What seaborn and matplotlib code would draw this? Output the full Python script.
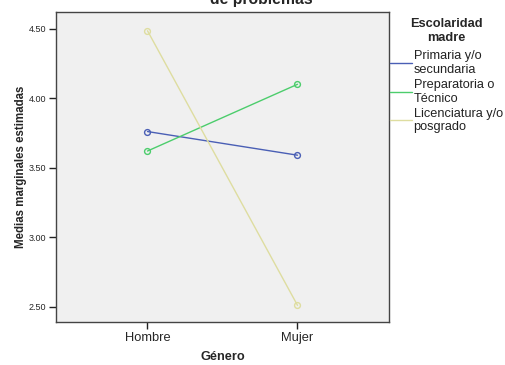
import matplotlib
matplotlib.use("Agg")
import matplotlib.pyplot as plt
import seaborn as sns
import pandas as pd
from matplotlib.lines import Line2D

genero = ["Hombre", "Mujer"]
series_names = ["Primaria y/o\nsecundaria", "Preparatoria o\nTécnico", "Licenciatura y/o\nposgrado"]
primaria = [3.76, 3.59]
preparatoria = [3.62, 4.10]
licenciatura = [4.485, 2.51]
yticks = [2.50, 3.00, 3.50, 4.00, 4.50]
colors = ["#4a5fb5", "#4ccd6c", "#deddA0"]

df = pd.DataFrame({
    "Género": genero * 3,
    "Media": primaria + preparatoria + licenciatura,
    "Escolaridad": [series_names[0]] * 2 + [series_names[1]] * 2 + [series_names[2]] * 2,
})

sns.set_style("white")
plt.rcParams["font.family"] = ["Liberation Sans", "DejaVu Sans"]

fig = plt.figure(figsize=(5.06, 3.65), dpi=100)
ax = fig.add_axes([56 / 506, 1 - 322 / 365, (389 - 56) / 506, (322 - 12) / 365])

sns.lineplot(data=df, x="Género", y="Media", hue="Escolaridad", palette=colors,
             marker="o", ax=ax, legend=False, linewidth=1.0, sort=False)
for ln, c in zip(ax.lines, colors):
    ln.set_markerfacecolor("none")
    ln.set_markeredgecolor(c)
    ln.set_markersize(4.2)
    ln.set_markeredgewidth(1.0)

ax.set_facecolor("#f0f0f0")
ax.set_xlim(-0.61, 1.61)
ax.set_ylim(2.39, 4.62)
ax.set_yticks(yticks)
ax.set_yticklabels([f"{v:.2f}" for v in yticks], fontsize=6.5)
ax.set_xticks([0, 1])
ax.set_xticklabels(genero, fontsize=9.3)
ax.tick_params(axis="both", direction="out", length=5, width=1, color="#222222", pad=2, left=True, bottom=True)
for s in ax.spines.values():
    s.set_color("#444444")
    s.set_linewidth(1.0)

ax.set_xlabel("Género", fontsize=9.2, fontweight="bold", labelpad=5)
ax.set_ylabel("Medias marginales estimadas", fontsize=8.3, fontweight="bold", labelpad=1)

fig.text(261 / 506, 361 / 365, "de problemas", ha="center", va="baseline",
         fontsize=11.3, fontweight="bold")

handles = [Line2D([0], [0], color=c, linewidth=1.0) for c in colors]
leg = fig.legend(handles, series_names, loc="upper left",
                 bbox_to_anchor=(390 / 506, 1 - 18 / 365), frameon=False,
                 title="Escolaridad\nmadre", fontsize=9.2, title_fontproperties={"weight": "bold", "size": 9.2},
                 handlelength=1.75, handletextpad=0.1, labelspacing=0.24, borderpad=0, borderaxespad=0,
                 alignment="center")
for t in leg.get_texts():
    t.set_linespacing(1.17)
    t.set_color("#222222")
leg.get_title().set_linespacing(1.17)
leg.get_title().set_ha("center")
leg.get_title().set_multialignment("center")
leg._legend_box.sep = 5

fig.savefig("out.png", dpi=100)
